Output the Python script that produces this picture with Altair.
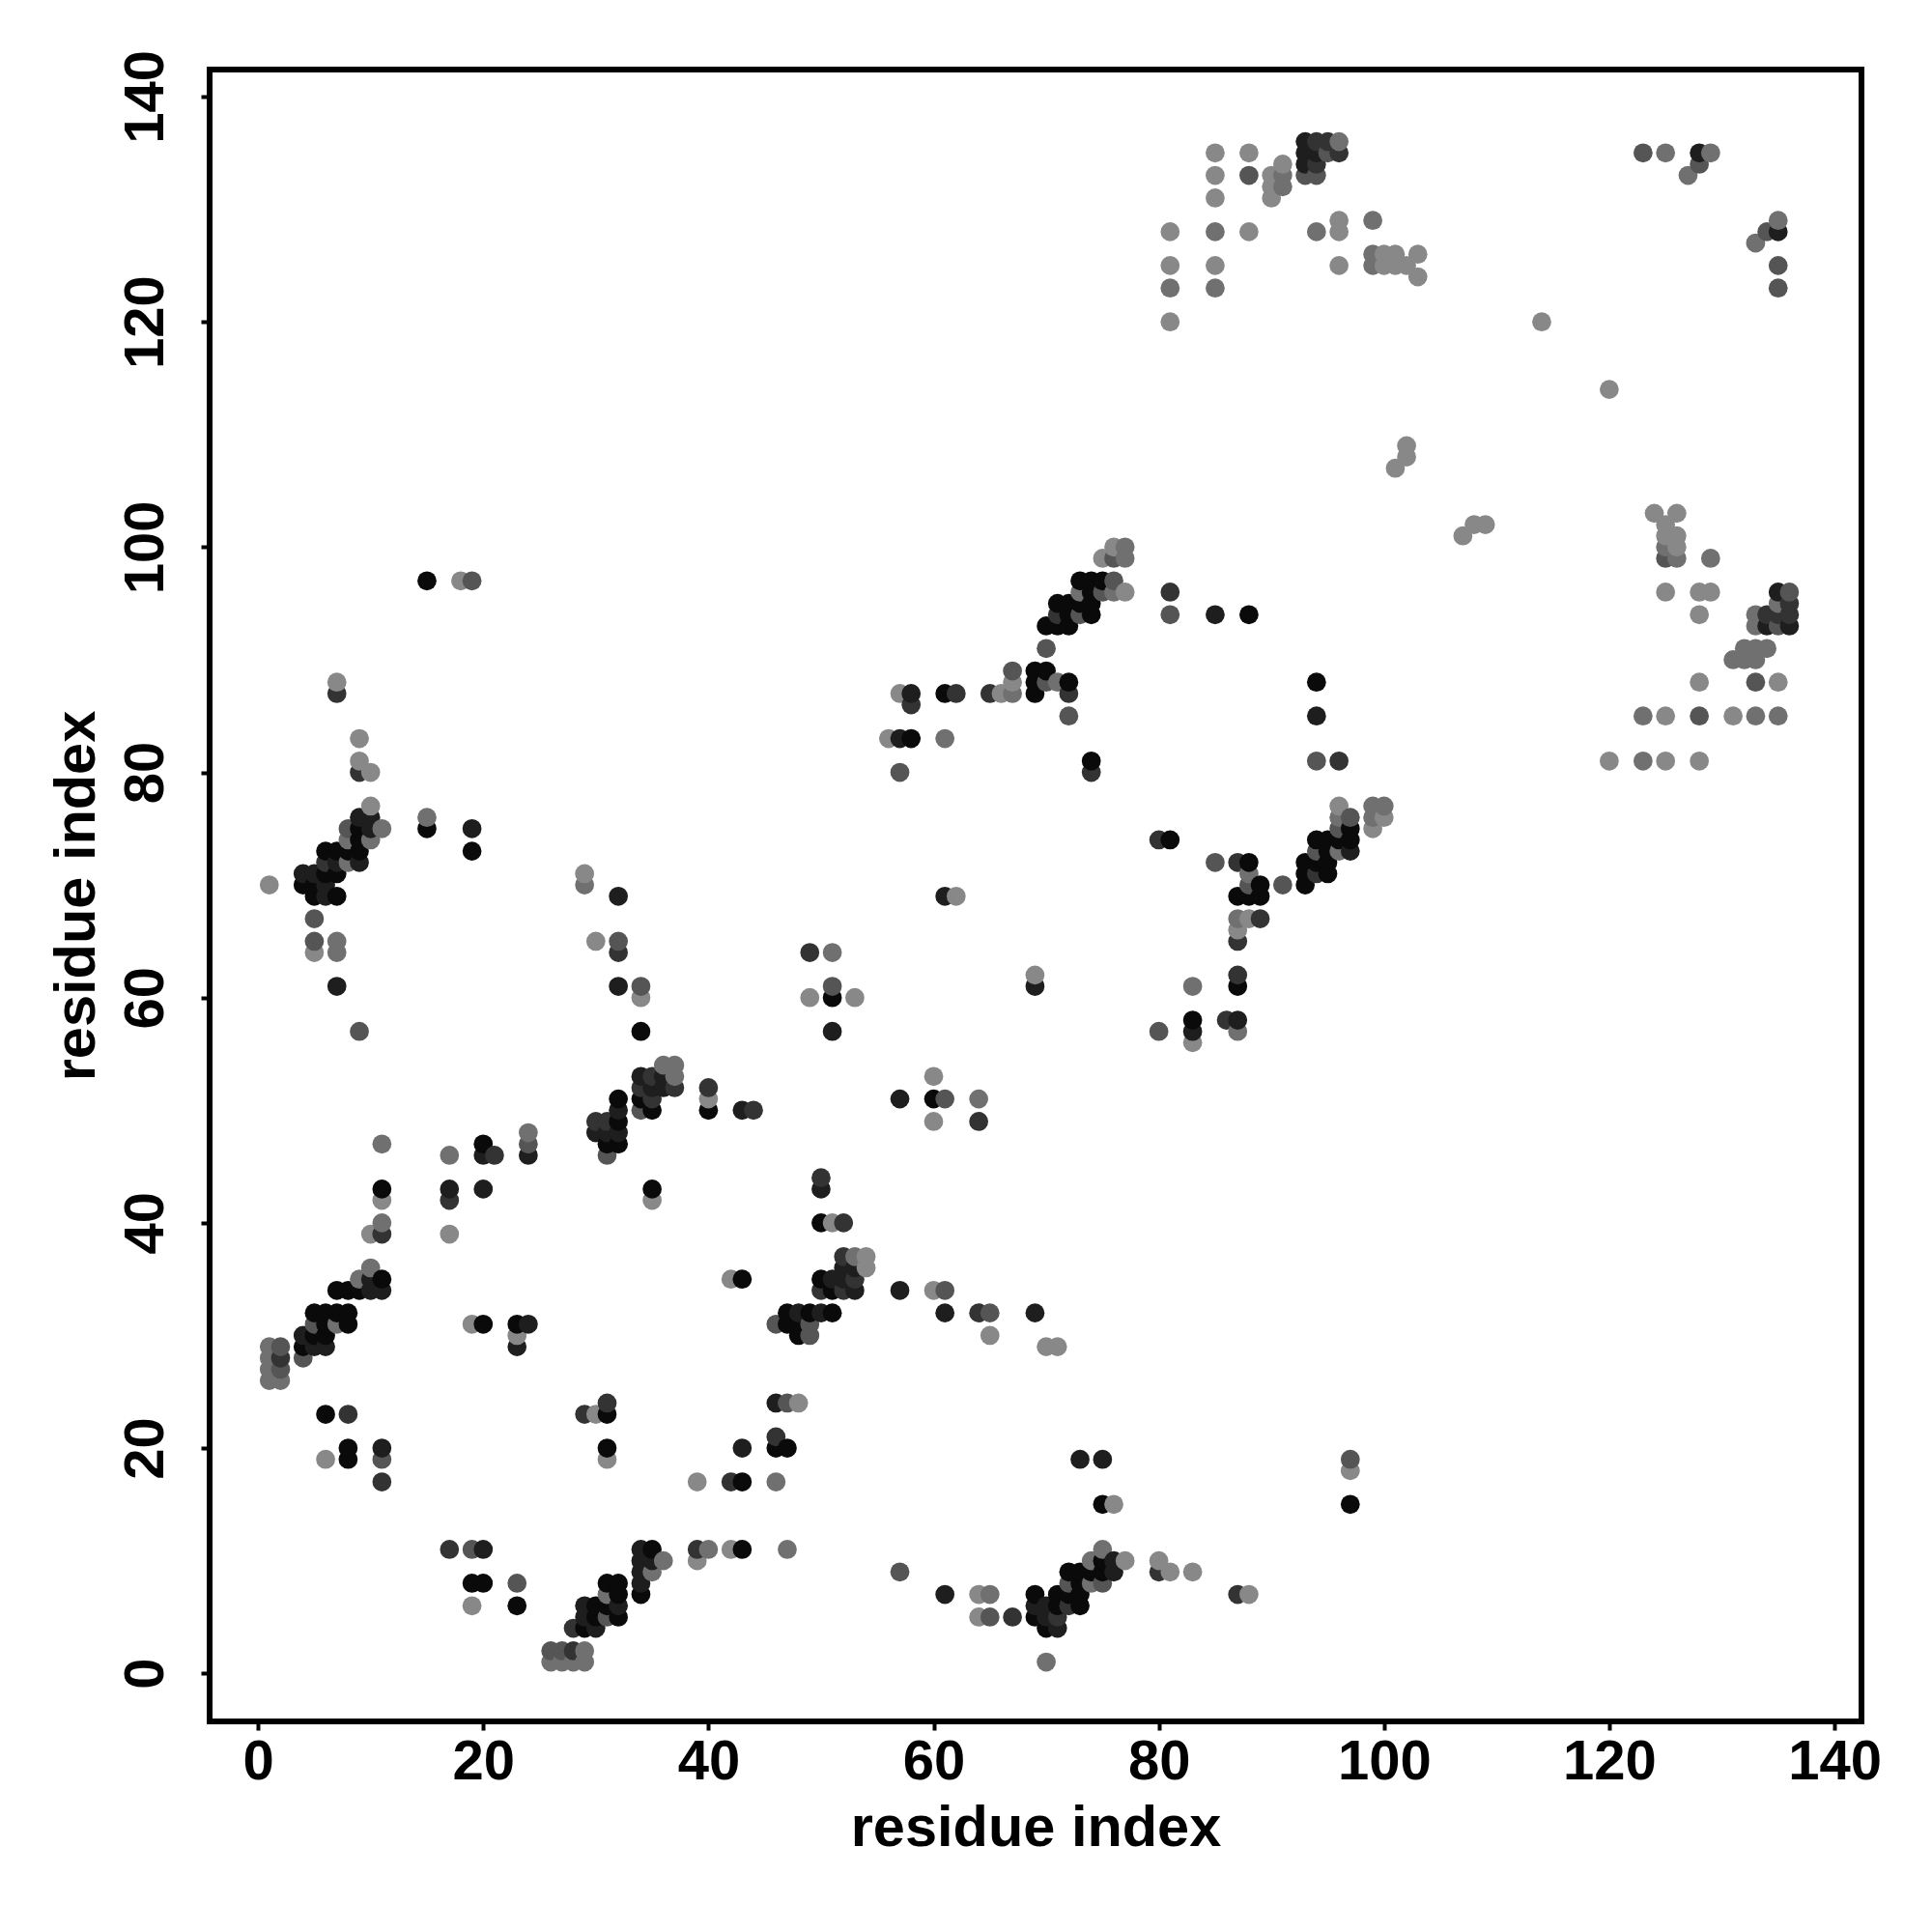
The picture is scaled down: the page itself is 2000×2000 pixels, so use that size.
import altair as alt
import pandas as pd

shade_palette = ["#0a0a0a", "#1e1e1e", "#333333", "#555555", "#707070", "#888888"]
tick_values = [0, 20, 40, 60, 80, 100, 120, 140]

column_x = [
    1, 2, 4, 5, 6, 7, 8, 9, 10, 11, 15, 17, 18, 19, 20, 21, 23, 24, 26, 27, 28, 29, 30, 31, 32,
    34, 35, 36, 37, 39, 40, 42, 43, 44, 46, 47, 48, 49, 50, 51, 52, 53, 54, 56, 57, 58, 60, 61,
    62, 64, 65, 66, 67, 69, 70, 71, 72, 73, 74, 75, 76, 77, 80, 81, 83, 85, 86, 87, 88, 89, 90,
    91, 93, 94, 95, 96, 97, 99, 100, 101, 102, 103, 107, 108, 109, 114, 120, 123, 124, 125, 126,
    127, 128, 129, 131, 132, 133, 134, 135, 136,
]
column_y = [
    [26, 27, 28, 29, 70], [26, 27, 28, 29], [28, 29, 30, 70, 71],
    [29, 30, 31, 32, 64, 65, 67, 69, 70, 71],
    [19, 23, 29, 30, 31, 32, 69, 70, 71, 72, 73],
    [31, 32, 34, 61, 64, 65, 69, 71, 72, 73, 87, 88],
    [19, 20, 23, 31, 32, 34, 72, 73, 74, 75],
    [34, 35, 57, 72, 73, 74, 75, 76, 80, 81, 83],
    [34, 35, 36, 39, 74, 75, 76, 77, 80],
    [17, 19, 20, 34, 35, 39, 40, 42, 43, 47, 75],
    [75, 76, 97], [11, 39, 42, 43, 46], [97], [6, 8, 11, 31, 73, 75, 97],
    [8, 11, 31, 43, 46, 47], [46], [6, 8, 29, 30, 31], [31, 46, 47, 48],
    [1, 2], [1, 2], [1, 2, 4], [1, 2, 4, 5, 6, 23, 70, 71], [4, 5, 6, 23, 48, 49, 65],
    [5, 6, 7, 8, 19, 20, 23, 24, 46, 47, 48, 49],
    [5, 6, 7, 8, 47, 48, 49, 50, 51, 61, 64, 65, 69],
    [7, 8, 9, 10, 11, 50, 51, 52, 53, 57, 60, 61],
    [9, 10, 11, 42, 43, 50, 51, 52, 53], [10, 52, 53, 54], [52, 53, 54],
    [10, 11, 17], [11, 50, 51, 52], [11, 17, 35], [11, 17, 20, 35, 50], [50],
    [17, 20, 21, 24, 31], [11, 20, 24, 31, 32], [24, 30, 31, 32], [30, 31, 32, 60, 64],
    [32, 34, 35, 40, 43, 44], [32, 34, 35, 40, 57, 60, 61, 64], [34, 35, 36, 37, 40],
    [34, 35, 36, 37, 60], [36, 37], [83], [9, 34, 51, 80, 83, 87], [83, 86, 87],
    [34, 49, 51, 53], [7, 32, 34, 51, 69, 83, 87], [69, 87], [5, 7, 32, 49, 51],
    [5, 7, 30, 32, 87], [87], [5, 87, 88, 89], [5, 6, 7, 32, 61, 62, 87, 88, 89],
    [1, 4, 5, 6, 29, 88, 89, 91, 93], [4, 5, 6, 7, 29, 88, 93, 94, 95],
    [6, 7, 8, 9, 85, 87, 88, 93, 94, 95], [6, 7, 8, 9, 19, 94, 95, 96, 97],
    [8, 9, 10, 80, 81, 94, 95, 96, 97], [8, 9, 10, 11, 15, 19, 96, 97, 99],
    [9, 10, 15, 96, 97, 99, 100], [10, 96, 99, 100], [9, 10, 57, 74],
    [9, 74, 94, 96, 120, 123, 125, 128], [9, 56, 57, 58, 61],
    [72, 94, 123, 125, 128, 131, 133, 135], [58], [7, 57, 58, 61, 62, 65, 66, 67, 69, 72],
    [7, 67, 69, 70, 71, 72, 94, 128, 133, 135], [67, 69, 70], [131, 132, 133],
    [70, 132, 133, 134], [70, 71, 72, 133, 134, 135, 136],
    [71, 72, 73, 74, 81, 85, 88, 128, 133, 134, 135, 136], [71, 72, 73, 74, 135, 136],
    [73, 74, 75, 76, 77, 81, 125, 128, 129, 135, 136], [15, 18, 19, 73, 74, 75, 76],
    [75, 76, 77, 125, 126, 129], [76, 77, 125, 126], [107, 125, 126], [108, 109, 125],
    [124, 126], [101], [102], [102], [120], [81, 114], [81, 85, 135], [103],
    [81, 85, 96, 99, 100, 101, 102, 135], [99, 100, 101, 103], [133],
    [81, 85, 88, 94, 96, 134, 135], [96, 99, 135], [85, 90], [90, 91],
    [85, 88, 90, 91, 93, 94, 127], [91, 93, 94, 128],
    [85, 88, 93, 94, 95, 96, 123, 125, 128, 129], [93, 94, 95, 96],
]
column_shade = [
    [4, 4, 4, 4, 5], [4, 3, 2, 3], [3, 0, 1, 0, 1],
    [1, 0, 3, 0, 5, 3, 3, 0, 0, 1],
    [5, 0, 1, 0, 0, 0, 1, 1, 0, 2, 0],
    [4, 0, 0, 1, 4, 4, 0, 0, 1, 0, 2, 5],
    [0, 0, 2, 0, 0, 0, 4, 0, 4, 3],
    [0, 4, 3, 1, 0, 0, 0, 1, 2, 5, 5],
    [1, 1, 4, 5, 4, 1, 1, 5, 5],
    [2, 3, 1, 1, 0, 2, 4, 5, 0, 4, 4],
    [0, 4, 0], [2, 5, 2, 1, 4], [5], [5, 0, 3, 5, 0, 1, 3],
    [0, 1, 0, 1, 1, 0], [2], [0, 3, 1, 5, 0], [1, 1, 3, 4],
    [4, 3], [4, 3], [4, 2, 2], [4, 4, 0, 1, 1, 2, 4, 5], [1, 0, 0, 5, 1, 2, 5],
    [3, 0, 4, 0, 5, 0, 0, 2, 3, 0, 1, 2],
    [0, 1, 0, 0, 0, 1, 0, 1, 0, 1, 2, 3, 1],
    [0, 1, 1, 1, 1, 3, 0, 2, 1, 0, 5, 3],
    [4, 1, 0, 5, 0, 0, 2, 1, 2], [4, 1, 1, 4], [2, 4, 4],
    [5, 2, 5], [4, 0, 5, 2], [5, 2, 5], [0, 0, 1, 0, 1], [2],
    [4, 0, 2, 1, 3], [4, 0, 3, 0, 0], [5, 0, 0, 1], [3, 3, 0, 5, 2],
    [1, 2, 0, 0, 1, 2], [0, 0, 1, 5, 1, 0, 3, 4], [2, 1, 1, 2, 2],
    [1, 2, 1, 4, 5], [5, 5], [5], [3, 1, 1, 3, 1, 5], [0, 2, 1],
    [5, 5, 0, 5], [1, 1, 3, 3, 1, 4, 0], [5, 2], [5, 5, 2, 2, 4],
    [3, 4, 5, 3, 2], [5], [2, 4, 5, 3], [0, 1, 0, 1, 1, 5, 0, 0, 0],
    [4, 0, 1, 1, 5, 3, 0, 3, 0], [1, 2, 0, 0, 5, 4, 0, 2, 0],
    [2, 0, 3, 0, 3, 2, 0, 0, 0, 0], [0, 0, 0, 0, 1, 3, 0, 4, 0],
    [4, 0, 4, 2, 0, 0, 0, 0, 0], [3, 0, 0, 4, 0, 1, 3, 0, 5],
    [1, 1, 5, 4, 3, 3, 5], [5, 5, 4, 4], [2, 5, 3, 2],
    [5, 0, 3, 2, 5, 4, 5, 5], [5, 5, 1, 0, 4],
    [3, 1, 4, 5, 4, 5, 5, 5], [2], [2, 4, 1, 0, 2, 2, 5, 4, 0, 2],
    [5, 5, 0, 3, 4, 0, 0, 5, 3, 5], [2, 0, 0], [5, 5, 5],
    [3, 4, 4, 5], [0, 0, 0, 3, 1, 1, 1],
    [2, 0, 3, 0, 3, 1, 0, 4, 3, 2, 1, 2], [0, 0, 0, 0, 3, 2],
    [4, 0, 3, 4, 5, 2, 5, 5, 5, 2, 4], [0, 5, 3, 1, 0, 0, 3],
    [5, 4, 4, 4, 4, 4], [5, 4, 5, 5], [5, 5, 5], [5, 5, 5],
    [5, 5], [5], [5], [5], [5], [5, 5], [4, 4, 3], [5],
    [5, 5, 5, 3, 4, 5, 5, 4], [4, 5, 5, 5], [4],
    [5, 3, 5, 5, 5, 3, 1], [5, 4, 4], [5, 4], [4, 4],
    [4, 3, 4, 4, 4, 4, 4], [4, 1, 2, 3],
    [4, 5, 3, 2, 4, 1, 3, 3, 1, 4], [1, 2, 2, 3],
]

rows = []
for cx, ys, shades in zip(column_x, column_y, column_shade, strict=True):
    for cy, s in zip(ys, shades, strict=True):
        rows.append({"i": cx, "j": cy, "shade": shade_palette[s]})
df = pd.DataFrame(rows)

font = "Liberation Sans"
chart = (
    alt.Chart(df)
    .mark_circle(size=390, opacity=1)
    .encode(
        x=alt.X(
            "i:Q",
            scale=alt.Scale(domain=[-4.3, 142.4], nice=False, zero=False),
            axis=alt.Axis(
                values=tick_values, title="residue index", grid=False, domain=False,
                tickColor="black", tickWidth=4, tickSize=9, labelFontSize=58,
                labelFont=font, labelFontWeight="bold", labelColor="black", labelPadding=4,
                labelFlush=False, labelOverlap=False, titleFontSize=59.5, titleFont=font,
                titleFontWeight="bold", titleColor="black", titlePadding=10,
            ),
        ),
        y=alt.Y(
            "j:Q",
            scale=alt.Scale(domain=[-4.27, 142.4], nice=False, zero=False),
            axis=alt.Axis(
                values=tick_values, title="residue index", grid=False, domain=False,
                tickColor="black", tickWidth=4, tickSize=9, labelFontSize=58,
                labelFont=font, labelFontWeight="bold", labelColor="black", labelAngle=270,
                labelAlign="center", labelBaseline="bottom", labelPadding=28,
                labelFlush=False, labelOverlap=False, titleFontSize=59.5, titleFont=font,
                titleFontWeight="bold", titleColor="black", titlePadding=13,
            ),
        ),
        color=alt.Color("shade:N", scale=None, legend=None),
    )
    .properties(
        width=1710,
        height=1710,
        autosize=alt.AutoSizeParams(type="none"),
        padding={"left": 209, "top": 64, "right": 60, "bottom": 200},
        background="white",
    )
    .configure_view(stroke="black", strokeWidth=6)
)

chart.save("out.html", embed_options={"renderer": "svg", "actions": False})
